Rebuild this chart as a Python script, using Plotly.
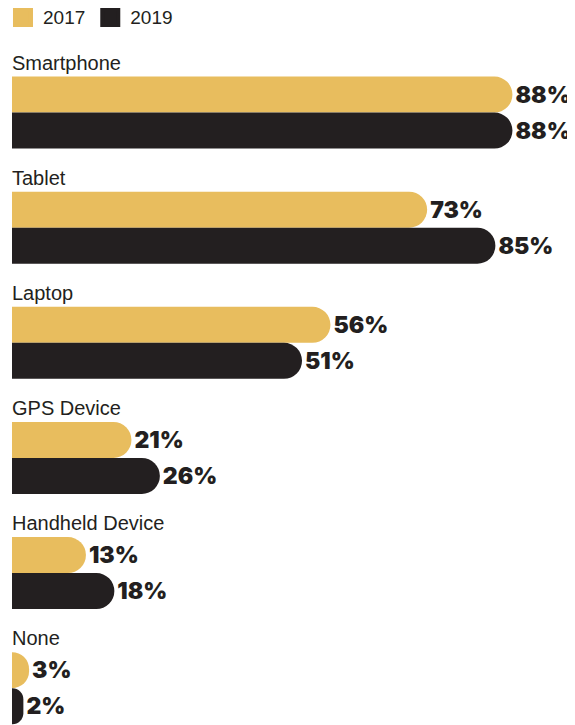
import plotly.graph_objects as go

categories = ["Smartphone", "Tablet", "Laptop", "GPS Device", "Handheld Device", "None"]
values_2017 = [88, 73, 56, 21, 13, 3]
values_2019 = [88, 85, 51, 26, 18, 2]
series_names = ["2017", "2019"]

YELLOW = "#E8BD5E"
DARK = "#231F20"

fig = go.Figure()
for name, vals, col in [(series_names[0], values_2017, YELLOW), (series_names[1], values_2019, DARK)]:
    fig.add_trace(go.Bar(
        x=vals, y=categories, orientation="h", name=name,
        marker=dict(color=col, line=dict(width=0)),
        text=[f"{v}%" for v in vals], textposition="outside",
        textfont=dict(family="Inter", size=23, color=DARK, weight=900),
        constraintext="none", cliponaxis=False,
        hoverinfo="skip", showlegend=False,
    ))
    fig.add_trace(go.Scatter(
        x=[None], y=[None], mode="markers", name=name,
        marker=dict(symbol="square", size=20, color=col, line=dict(width=4, color=col)),
        showlegend=True, hoverinfo="skip",
    ))

for c in categories:
    fig.add_annotation(
        x=0, y=c, xref="x", yref="y", text=c, showarrow=False,
        xanchor="left", yanchor="bottom", yshift=37, xshift=-2,
        font=dict(family="Liberation Sans", size=20, color=DARK),
    )

fig.update_layout(
    width=567, height=717,
    margin=dict(l=4, r=0, t=47, b=0, autoexpand=False),
    paper_bgcolor="white", plot_bgcolor="white",
    barmode="group", bargap=0.374, bargroupgap=0,
    barcornerradius="50%",
    xaxis=dict(range=[0, 99], visible=False, fixedrange=True),
    yaxis=dict(range=[5.32, -0.5], visible=False, fixedrange=True, type="category"),
    legend=dict(orientation="h", x=-0.016, y=1.085, xref="paper", yref="paper",
                xanchor="left", yanchor="top",
                font=dict(family="Liberation Sans", size=19, color=DARK),
                itemclick=False, itemdoubleclick=False),
    showlegend=True,
)

fig.write_html("out.html")
